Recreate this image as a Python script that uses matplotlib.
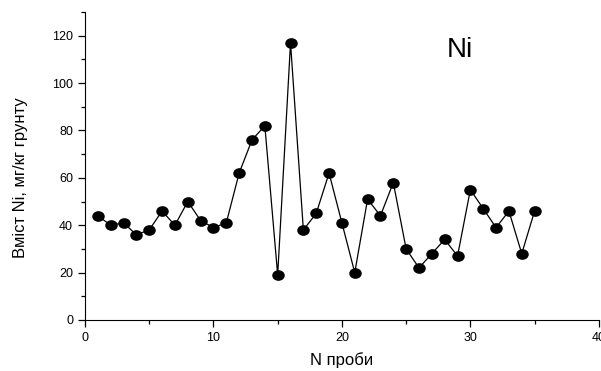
import numpy as np
import matplotlib
matplotlib.use("Agg")
import matplotlib.pyplot as plt
from matplotlib.path import Path
from matplotlib.ticker import MultipleLocator

plt.rcParams['font.family'] = ['Liberation Sans', 'DejaVu Sans']

sample_no = list(range(1, 36))
ni_content = [44, 40, 41, 36, 38, 46, 40, 50, 42, 39,
              41, 62, 76, 82, 19, 117, 38, 45, 62, 41,
              20, 51, 44, 58, 30, 22, 28, 34, 27, 55,
              47, 39, 46, 28, 46]

# slightly flattened dot, like the original
circ = Path.unit_circle()
ellipse = Path(circ.vertices * np.array([1.2, 1.0]), circ.codes)

fig = plt.figure(figsize=(6.01, 3.71), dpi=100)
ax = fig.add_axes([0.1414, 0.1375, 0.855, 0.830])

ax.plot(sample_no, ni_content, color="black", lw=0.9,
        marker=ellipse, markersize=8, markerfacecolor="black",
        markeredgecolor="black", clip_on=False)

ax.set_xlim(0, 40)
ax.set_ylim(0, 130)
ax.xaxis.set_major_locator(MultipleLocator(10))
ax.xaxis.set_minor_locator(MultipleLocator(5))
ax.yaxis.set_major_locator(MultipleLocator(20))
ax.yaxis.set_minor_locator(MultipleLocator(10))
ax.set_yticks(range(0, 121, 20))

for s in ("top", "right"):
    ax.spines[s].set_visible(False)
ax.tick_params(which="both", direction="out", labelsize=9, width=0.9)
ax.tick_params(which="major", length=5)
ax.tick_params(which="minor", length=3)

ax.set_xlabel("N проби", fontsize=12, labelpad=6)
ax.set_ylabel("Вміст Ni, мг/кг грунту", fontsize=12)
ax.yaxis.set_label_coords(-0.111, 0.461)
ax.text(29.2, 114, "Ni", fontsize=20, ha="center", va="center")

fig.savefig("out.png", dpi=100)
